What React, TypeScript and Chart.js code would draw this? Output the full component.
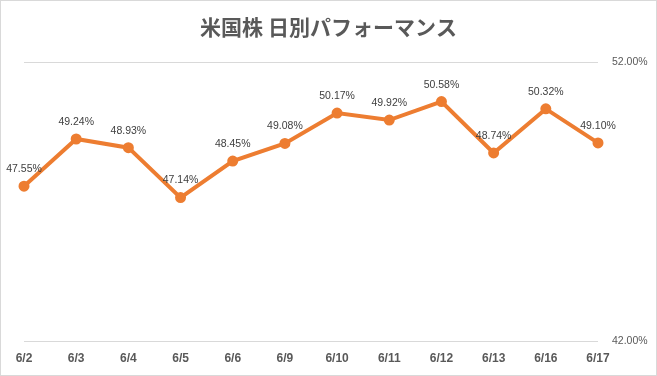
import React, { useEffect, useRef } from "react";
import { Chart, registerables } from "chart.js";

Chart.register(...registerables);

const TITLE = "米国株 日別パフォーマンス";
const categories = ["6/2", "6/3", "6/4", "6/5", "6/6", "6/9", "6/10", "6/11", "6/12", "6/13", "6/16", "6/17"];
const values = [47.55, 49.24, 48.93, 47.14, 48.45, 49.08, 50.17, 49.92, 50.58, 48.74, 50.32, 49.1];
const yMin = 42;
const yMax = 52;

const TEXT = "#595959";
const ORANGE = "#ED7D31";

const framePlugin = {
  id: "frame",
  afterDraw(chart: any) {
    const ctx = chart.ctx;
    ctx.save();
    ctx.strokeStyle = "#d9d9d9";
    ctx.lineWidth = 1;
    ctx.strokeRect(0.5, 0.5, chart.width - 1, chart.height - 1);
    ctx.fillStyle = TEXT;
    ctx.font = 'bold 21px "Noto Sans CJK JP"';
    ctx.textAlign = "center";
    ctx.textBaseline = "middle";
    ctx.fillText(TITLE, chart.width / 2, 27);
    // data labels
    const meta = chart.getDatasetMeta(0);
    ctx.fillStyle = "#404040";
    ctx.font = '10.5px "Liberation Sans"';
    meta.data.forEach((pt: any, i: number) => {
      ctx.fillText(values[i].toFixed(2) + "%", pt.x, pt.y - 17);
    });
    ctx.restore();
  },
};

export default function App() {
  const ref = useRef<HTMLCanvasElement>(null);
  useEffect(() => {
    if (!ref.current) return;
    const chart = new Chart(ref.current, {
      type: "line",
      data: {
        labels: categories,
        datasets: [
          {
            data: values,
            borderColor: ORANGE,
            backgroundColor: ORANGE,
            borderWidth: 4,
            pointRadius: 3.5,
            pointBackgroundColor: ORANGE,
            pointBorderColor: ORANGE,
            tension: 0,
          },
        ],
      },
      options: {
        responsive: false,
        animation: false,
        layout: { padding: { left: 24, top: 62, right: 0, bottom: 0 } },
        plugins: { legend: { display: false }, tooltip: { enabled: false }, title: { display: false } },
        scales: {
          x: {
            offset: false,
            grid: { display: false, drawTicks: false },
            border: { display: false },
            ticks: {
              color: TEXT,
              font: { family: "Liberation Sans", size: 12, weight: "bold" },
              padding: 10,
              maxRotation: 0,
              autoSkip: false,
            },
            afterFit(scale: any) {
              scale.height = 35;
            },
          },
          y: {
            position: "right",
            min: yMin,
            max: yMax,
            grid: { color: "#d9d9d9", drawTicks: false },
            border: { display: false },
            ticks: {
              stepSize: 10,
              color: TEXT,
              font: { family: "Liberation Sans", size: 10.5 },
              padding: 14,
              callback: (v: any) => Number(v).toFixed(2) + "%",
            },
            afterFit(scale: any) {
              scale.width = 59;
            },
          },
        },
      },
      plugins: [framePlugin],
    });
    return () => chart.destroy();
  }, []);
  return (
    <div style={{ position: "fixed", left: 0, top: 0, width: 657, height: 376, background: "#fff" }}>
      <canvas ref={ref} width={657} height={376} style={{ width: 657, height: 376, display: "block" }} />
    </div>
  );
}
